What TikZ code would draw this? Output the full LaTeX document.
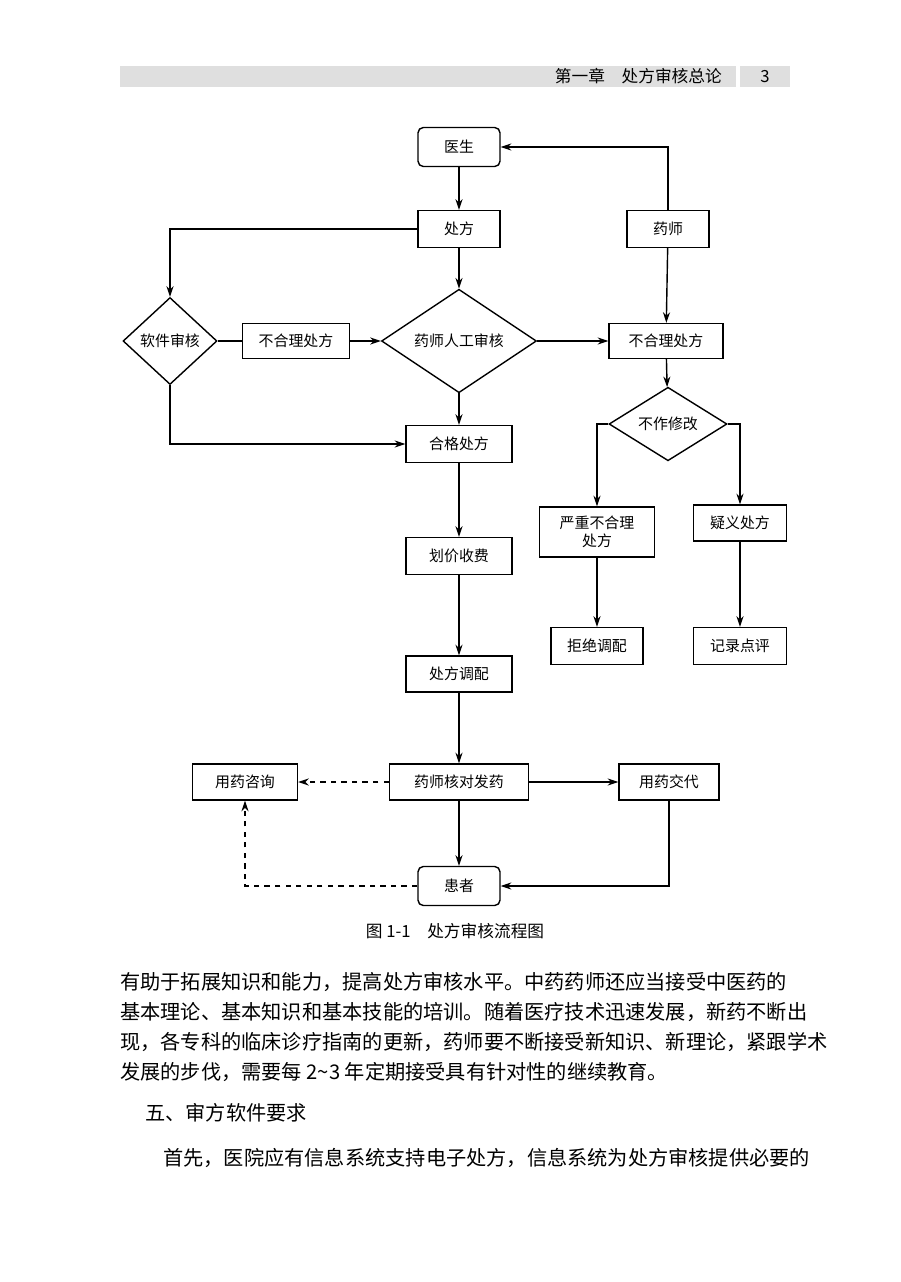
\documentclass[tikz,border=0pt]{standalone}
\usepackage{fontspec}
\setmainfont{Noto Sans CJK SC}
\usetikzlibrary{positioning,arrows.meta,shapes.geometric}

\begin{document}
\begin{tikzpicture}
          [x=0.02cm, y=-0.02cm,
           box/.style={draw, thick, inner sep=0pt, minimum height=0.74cm, font=\fontsize{8.5}{10}\selectfont},
           endbox/.style={box, rounded corners=3pt, minimum width=1.64cm, minimum height=0.78cm},
           check/.style={draw, thick, diamond, inner sep=0pt, font=\fontsize{8.5}{10}\selectfont},
           line/.style={thick},
           >={Stealth[length=6pt,width=4pt]}
          ]
          \useasboundingbox (0,0) rectangle (900,1282);
          \fill[white] (0,0) rectangle (900,1282);
          % header
          \fill[gray!25] (120,66) rectangle (790,87);
          \fill[white] (736,66) rectangle (740,87);
          \node[anchor=east, font=\fontsize{9.5}{11}\selectfont] (chap) at (728,76.5) {第一章\quad 处方审核总论};
          \node[font=\fontsize{9.5}{11}\selectfont] (page) at (765,76.5) {3};
          % nodes
          \node[endbox] (doc) at (459,147) {医生};
          \node[box, minimum width=1.64cm] (rx) at (459,229) {处方};
          \node[box, minimum width=1.64cm] (ph) at (668,229) {药师};
          \node[check, minimum width=1.88cm, minimum height=1.74cm] (soft) at (170,341) {软件审核};
          \node[box, minimum width=2.14cm, minimum height=0.7cm] (badl) at (296,341) {不合理处方};
          \node[check, minimum width=3.1cm, minimum height=1.56cm] (man) at (459,341) {药师人工审核};
          \node[box, minimum width=2.28cm, minimum height=0.7cm] (badr) at (666,341) {不合理处方};
          \node[check, minimum width=2.36cm, minimum height=1.18cm] (nomod) at (668,424) {不作修改};
          \node[box, minimum width=2.12cm] (ok) at (459,444) {合格处方};
          \node[box, minimum width=2.3cm, minimum height=1cm, align=center] (severe) at (597,532) {严重不合理\\处方};
          \node[box, minimum width=1.86cm, minimum height=0.72cm] (doubt) at (740,523) {疑义处方};
          \node[box, minimum width=2.12cm] (fee) at (459,556) {划价收费};
          \node[box, minimum width=1.84cm] (refuse) at (597,646) {拒绝调配};
          \node[box, minimum width=1.86cm] (record) at (740,646) {记录点评};
          \node[box, minimum width=2.12cm, minimum height=0.72cm] (disp) at (459,674) {处方调配};
          \node[box, minimum width=2.1cm, minimum height=0.72cm] (consult) at (245,782) {用药咨询};
          \node[box, minimum width=2.78cm, minimum height=0.72cm] (issue) at (459,782) {药师核对发药};
          \node[box, minimum width=2cm, minimum height=0.72cm] (explain) at (669,782) {用药交代};
          \node[endbox] (pat) at (459,886) {患者};
          % connectors
          \draw[->, line] (doc) -- (rx);
          \draw[->, line] (ph.north) |- (doc.east);
          \draw[->, line] (ph) -- (badr);
          \draw[->, line] (rx) -- (man);
          \draw[->, line] (rx.west) -| (soft.north);
          \draw[line] (soft.east) -- (badl.west);
          \draw[->, line] (badl) -- (man);
          \draw[->, line] (man) -- (badr);
          \draw[->, line] (man) -- (ok);
          \draw[->, line] (soft.south) |- (ok.west);
          \draw[->, line] (badr) -- (nomod);
          \draw[->, line] (nomod.west) -| (severe.north);
          \draw[->, line] (nomod.east) -| (doubt.north);
          \draw[->, line] (severe) -- (refuse);
          \draw[->, line] (doubt) -- (record);
          \draw[->, line] (ok) -- (fee);
          \draw[->, line] (fee) -- (disp);
          \draw[->, line] (disp) -- (issue);
          \draw[->, line, dashed] (issue) -- (consult);
          \draw[->, line] (issue) -- (explain);
          \draw[->, line] (issue) -- (pat);
          \draw[->, line] (explain.south) |- (pat.east);
          \draw[->, line, dashed] (pat.west) -| (consult.south);
          % caption and text
          \node[font=\fontsize{9.5}{11}\selectfont] (cap) at (455,931) {图 1-1\quad 处方审核流程图};
          \begin{scope}[every node/.style={anchor=west, inner sep=0pt, font=\fontsize{11.5}{13}\selectfont}]
            \node (t1) at (120,982) {有助于拓展知识和能力，提高处方审核水平。中药药师还应当接受中医药的};
            \node (t2) at (120,1012) {基本理论、基本知识和基本技能的培训。随着医疗技术迅速发展，新药不断出};
            \node (t3) at (120,1042) {现，各专科的临床诊疗指南的更新，药师要不断接受新知识、新理论，紧跟学术};
            \node (t4) at (120,1072) {发展的步伐，需要每 2\textasciitilde3 年定期接受具有针对性的继续教育。};
            \node (h5) at (145,1113) {五、审方软件要求};
            \node (t5) at (163,1158) {首先，医院应有信息系统支持电子处方，信息系统为处方审核提供必要的};
          \end{scope}
\end{tikzpicture}
\end{document}
